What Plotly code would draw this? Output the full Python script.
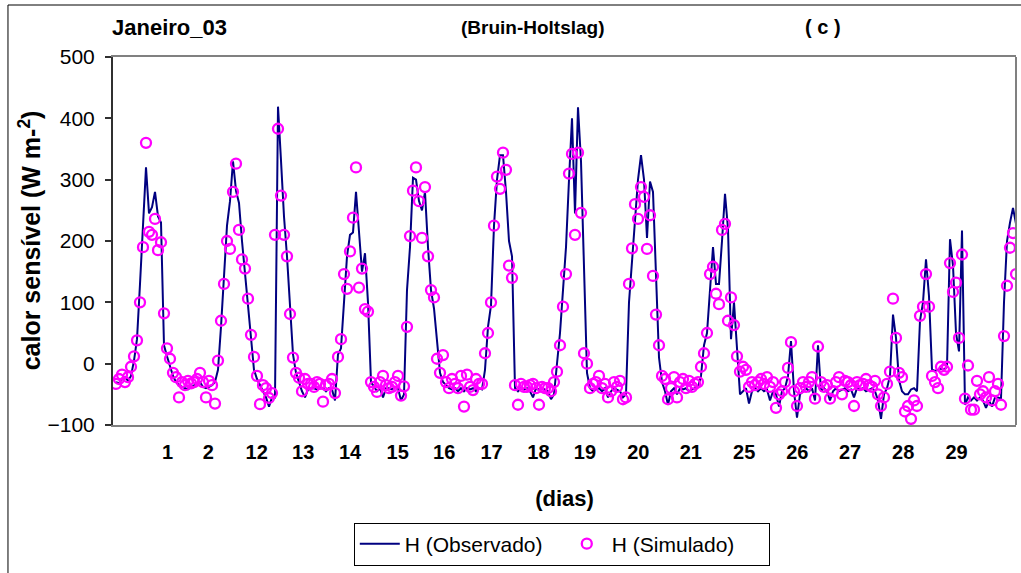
import plotly.graph_objects as go

# Observed sensible heat flux (W m-2), one value per time step
obs = [
    -30, -32, -25, -22, -28, -20, 5, 40, 130, 235,
    320, 245, 255, 280, 240, 230, 30, 12, -5, -20,
    -30, -35, -38, -40, -42, -38, -35, -32, -30, -38,
    -40, -38, -35, -30, -10, 60, 150, 225, 265, 330,
    282, 262, 200, 150, 90, 40, -10, -25, -35, -45,
    -55, -70, -55, -55, 419, 331, 240, 175, 91, 15,
    -15, -30, -45, -55, -42, -40, -40, -42, -40, -40,
    -45, -40, -42, -60, 15, 25, 100, 175, 210, 214,
    280, 210, 150, 180, 100, -30, -38, -45, -40, -55,
    -40, -40, -42, -38, -40, -60, -50, 120, 190, 303,
    300, 265, 250, 280, 190, 120, 90, 37, -15, -30,
    -35, -40, -42, -40, -45, -40, -45, -40, -42, -40,
    -45, -40, -42, -10, 60, 95, 225, 300, 340, 340,
    280, 200, 175, -40, -45, -40, -42, -40, -45, -55,
    -40, -42, -40, -42, -45, -58, -50, 0, 50, 120,
    190, 300, 400, 245, 418, 330, 173, -15, -40, -45,
    -42, -40, -45, -40, -55, -45, -40, -42, -45, -55,
    -50, 100, 168, 238, 300, 340, 300, 205, 297, 280,
    130, 10, -30, -45, -67, -45, -40, -50, -40, -42,
    -40, -45, -42, -40, -38, -20, 30, 50, 130, 190,
    130, 130, 200, 277, 220, 40, 100, 15, -50, -45,
    -40, -65, -45, -40, -45, -40, -45, -42, -60, -45,
    -50, -70, -45, -40, -20, 37, -45, -88, -50, -45,
    -40, -45, -40, -60, 30, -45, -40, -45, -60, -45,
    -40, -45, -42, -40, -45, -42, -55, -40, -42, -40,
    -45, -42, -40, -45, -60, -90, -50, -40, -20, 80,
    42, -27, -45, -50, -50, -42, -40, -45, 70, 100,
    170, 110, -10, -12, -10, -8, -10, -5, 203, 160,
    50, 20, 217, -67, -55, -60, -55, -60, -55, -60,
    -72, -60, -70, -55, -55, -57, 100, 200, 230, 254,
    228,
]

# Simulated sensible heat flux (W m-2), Bruin-Holtslag scheme
sim = [
    -33, -25, -18, -30, -22, -5, 12, 38, 100, 190,
    360, 215, 210, 236, 185, 198, 82, 25, 8, -15,
    -22, -55, -30, -35, -28, -32, -30, -25, -15, -30,
    -55, -28, -35, -65, 5, 70, 130, 200, 187, 280,
    326, 218, 170, 155, 106, 47, 11, -20, -66, -35,
    -40, -56, -48, 210, 383, 274, 210, 175, 81, 10,
    -15, -23, -45, -25, -33, -33, -38, -30, -33, -62,
    -35, -33, -25, -48, 11, 40, 146, 122, 183, 238,
    320, 124, 155, 89, 85, -30, -38, -46, -30, -20,
    -35, -40, -38, -30, -20, -52, -37, 60, 208, 282,
    320, 265, 205, 288, 175, 120, 108, 8, -15, 14,
    -30, -40, -25, -33, -40, -20, -70, -18, -38, -43,
    -25, -33, -33, 17, 50, 100, 225, 305, 285, 344,
    316, 160, 140, -35, -67, -33, -38, -38, -35, -33,
    -40, -67, -38, -40, -40, -45, -30, -13, 30, 93,
    146, 310, 342, 210, 344, 246, 17, 0, -40, -33,
    -30, -20, -40, -33, -55, -45, -30, -38, -28, -58,
    -55, 130, 188, 260, 236, 288, 272, 187, 242, 143,
    80, 30, -20, -25, -58, -40, -22, -55, -30, -25,
    -40, -28, -38, -33, -30, -5, 17, 50, 146, 158,
    114, 97, 218, 228, 70, 108, 63, 12, -13, -5,
    -10, -38, -30, -35, -30, -25, -33, -22, -38, -30,
    -72, -50, -45, -30, -7, 35, -45, -69, -40, -30,
    -38, -30, -22, -57, 28, -30, -38, -35, -57, -45,
    -30, -22, -50, -28, -30, -35, -69, -30, -35, -33,
    -25, -35, -38, -28, -50, -69, -55, -33, -13, 106,
    42, -15, -22, -78, -69, -90, -60, -69, 78, 93,
    146, 93, -20, -30, -40, -5, -10, -5, 164, 117,
    132, 42, 178, -57, -3, -75, -75, -28, -50, -45,
    -55, -22, -60, -45, -33, -67, 45, 127, 189, 213,
    146,
]

# time-step index of each record
steps = list(range(len(obs)))

# day labels on the category axis and the step where each label sits
day_labels = ["1", "2", "12", "13", "14", "15", "16", "17", "18", "19",
              "20", "21", "25", "26", "27", "28", "29"]
day_label_steps = [17.2, 30.8, 46.9, 62.4, 78.0, 93.9, 109.4, 125.2, 140.8,
                   156.3, 174.1, 191.6, 209.4, 227.1, 244.7, 262.4, 280.2]

y_ticks = [-100, 0, 100, 200, 300, 400, 500]

FONT = "Liberation Sans, Arial, sans-serif"

fig = go.Figure()
fig.add_trace(go.Scatter(
    x=steps, y=obs, mode="lines", name="H (Observado)",
    line=dict(color="#000080", width=2),
))
fig.add_trace(go.Scatter(
    x=steps, y=sim, mode="markers", name="H (Simulado)",
    marker=dict(symbol="circle-open", size=10, color="#FF00FF",
                line=dict(width=2.3, color="#FF00FF")),
))

fig.update_layout(
    width=1021, height=573,
    margin=dict(l=113, r=5, t=57, b=148),
    paper_bgcolor="white", plot_bgcolor="white",
    font=dict(family=FONT, size=20, color="black"),
    showlegend=True,
    legend=dict(
        orientation="h", x=0.497, xanchor="center", y=-0.265, yanchor="top",
        bordercolor="black", borderwidth=1, bgcolor="white",
        font=dict(family=FONT, size=21, color="black"),
        itemwidth=40, tracegroupgap=0,
        entrywidth=152, entrywidthmode="pixels",
    ),
    xaxis=dict(
        range=[-1, 300], showgrid=False, zeroline=False,
        tickmode="array", tickvals=day_label_steps, ticktext=day_labels,
        ticks="", showline=True, linecolor="#808080", linewidth=2,
        mirror=True, tickfont=dict(family=FONT, size=20, color="black", weight="bold"),
        ticklabelstandoff=8,
        title=dict(text="<b>(dias)</b>", font=dict(family=FONT, size=22, color="black"),
                   standoff=29),
    ),
    yaxis=dict(
        range=[-100, 500], showgrid=False, zeroline=False,
        tickmode="array", tickvals=y_ticks,
        ticks="outside", ticklen=6, tickwidth=1.5, tickcolor="#303030",
        showline=True, linecolor="#303030", linewidth=2,
        tickfont=dict(family=FONT, size=21, color="black"),
        ticklabelstandoff=6,
    ),
)

# right border of plot area (gray like top/bottom)
fig.add_shape(type="line", xref="paper", yref="paper", x0=1, x1=1, y0=0, y1=1,
              line=dict(color="#808080", width=2))
# outer chart-area border
fig.add_shape(type="rect", xref="paper", yref="paper",
              x0=-0.1163, x1=1.2, y0=-1.0, y1=1.1413,
              line=dict(color="black", width=1), layer="below")

fig.add_annotation(text="<b>Janeiro_03</b>", xref="paper", yref="paper",
                   x=0.0631, y=1.0815, xanchor="center", yanchor="middle", showarrow=False,
                   font=dict(family=FONT, size=22, color="black"))
fig.add_annotation(text="<b>(Bruin-Holtslag)</b>", xref="paper", yref="paper",
                   x=0.4651, y=1.0815, xanchor="center", yanchor="middle", showarrow=False,
                   font=dict(family=FONT, size=19, color="black"))
fig.add_annotation(text="<b>( c )</b>", xref="paper", yref="paper",
                   x=0.7863, y=1.0815, xanchor="center", yanchor="middle", showarrow=False,
                   font=dict(family=FONT, size=20, color="black"))
fig.add_annotation(text="<b>calor sensível (W m-<sup>2</sup>)</b>", xref="paper", yref="paper",
                   x=-0.0925, y=0.503, xanchor="center", yanchor="middle",
                   showarrow=False, textangle=-90,
                   font=dict(family=FONT, size=25, color="black"))

fig.write_html("out.html")
